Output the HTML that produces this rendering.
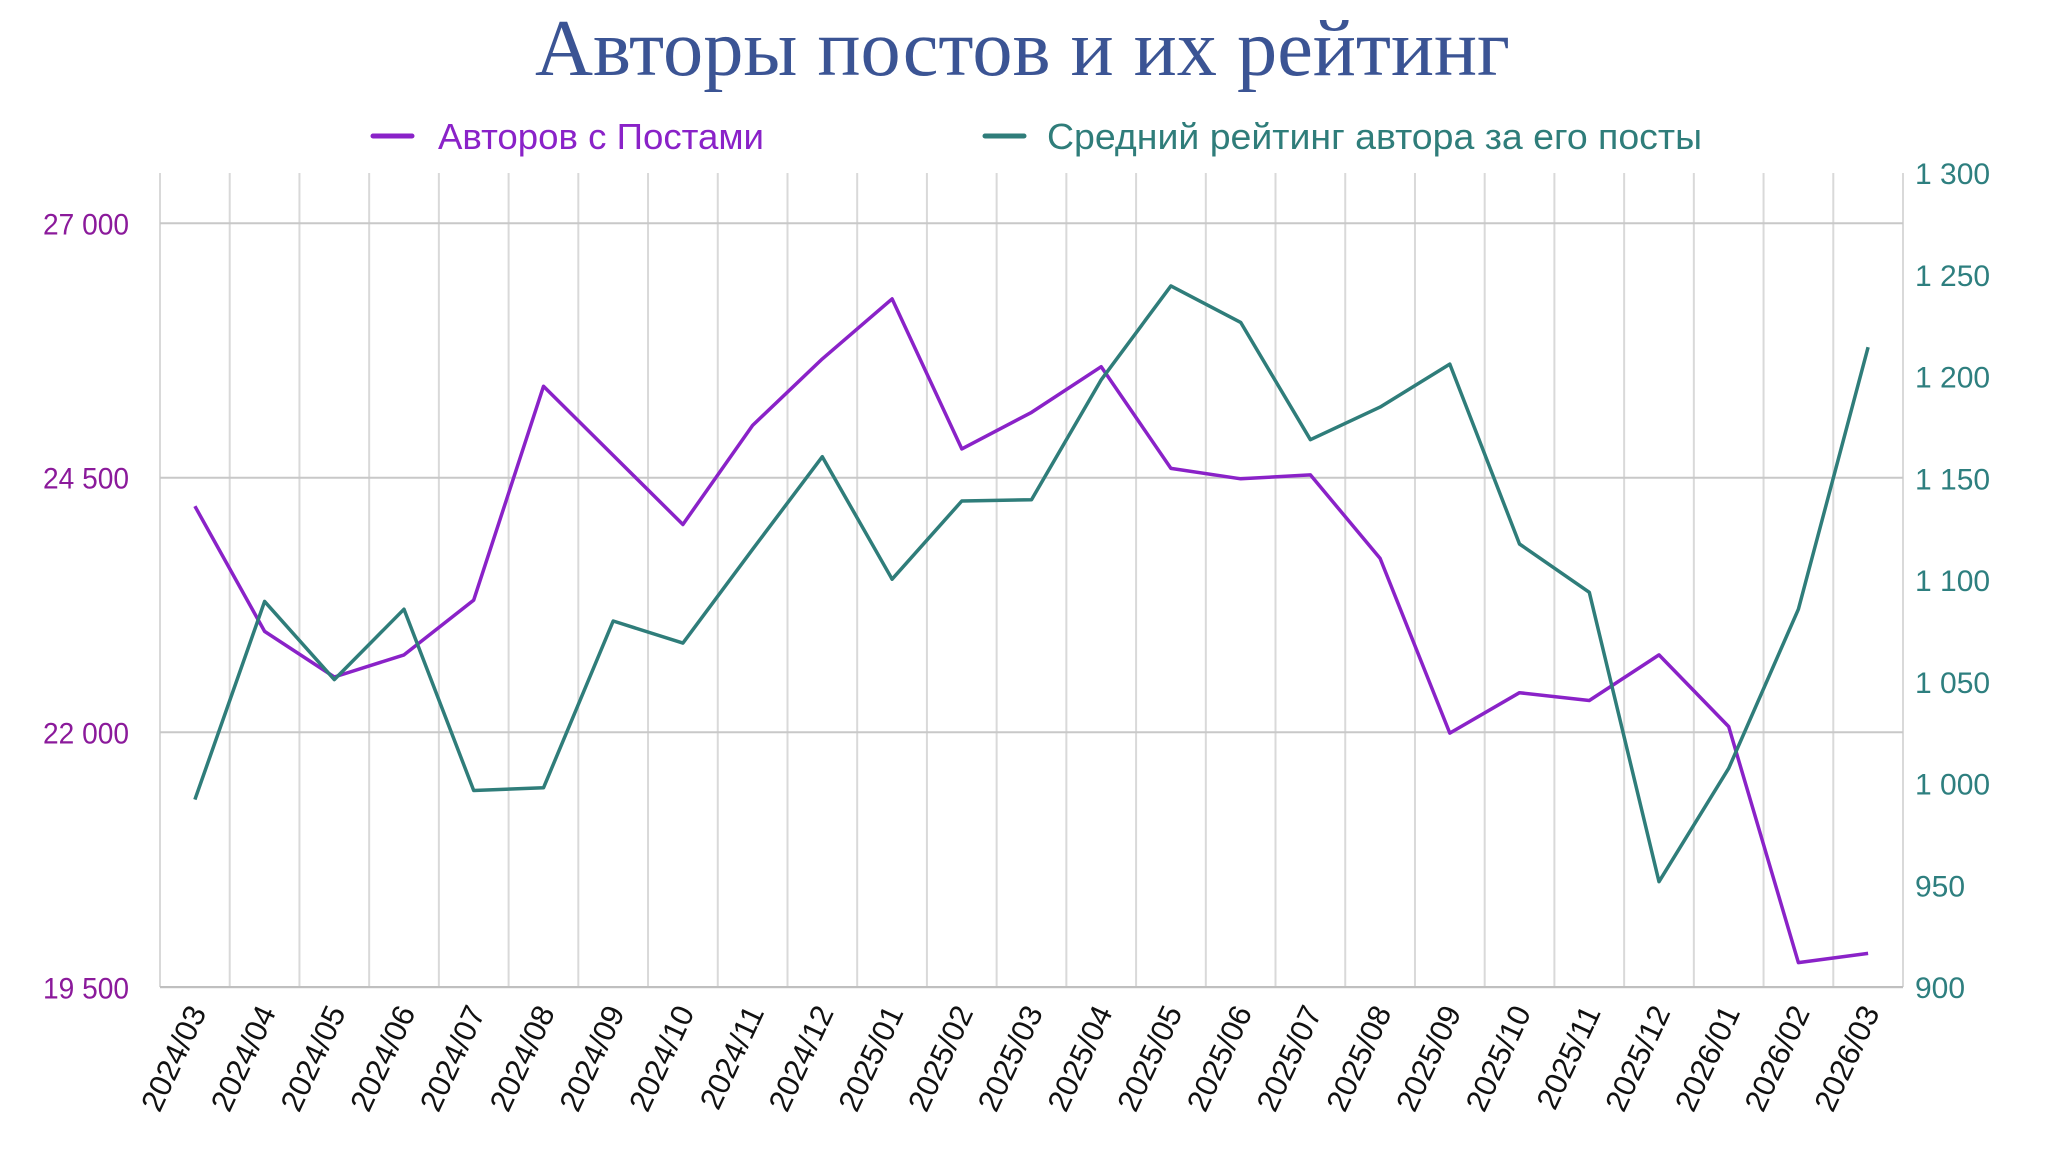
<!DOCTYPE html>
<html><head><meta charset="utf-8"><style>
html,body{margin:0;padding:0;background:#fff;}
svg{display:block;}
</style></head><body>
<svg id="c" width="2048" height="1149" xmlns="http://www.w3.org/2000/svg">
<text x="535" y="75" font-family="Liberation Serif, serif" font-size="80" fill="#3b5494" textLength="975" lengthAdjust="spacingAndGlyphs">Авторы постов и их рейтинг</text>
<line x1="373" y1="136" x2="412" y2="136" stroke="#8a22c8" stroke-width="5" stroke-linecap="round"/>
<text x="438" y="149" font-family="Liberation Sans, sans-serif" font-size="36" fill="#8a22c8" textLength="326" lengthAdjust="spacingAndGlyphs">Авторов с Постами</text>
<line x1="985" y1="136" x2="1024" y2="136" stroke="#2f7d7a" stroke-width="5" stroke-linecap="round"/>
<text x="1047" y="149" font-family="Liberation Sans, sans-serif" font-size="36" fill="#2f7d7a" textLength="655" lengthAdjust="spacingAndGlyphs">Средний рейтинг автора за его посты</text>
<g id="grid"></g>
<g id="lines"></g>
</svg>
<script>
var ns="http://www.w3.org/2000/svg",svg=document.getElementById('c');
function el(t,a,txt,p){var e=document.createElementNS(ns,t);for(var k in a)e.setAttribute(k,a[k]);if(txt!=null)e.textContent=txt;(p||svg).appendChild(e);return e;}
var L=160,R=1903,T=173,B=987,bw=(R-L)/25;
var g=document.getElementById('grid');
for(var i=0;i<=25;i++){var x=L+i*bw;el('line',{x1:x,y1:T,x2:x,y2:B,stroke:'#d9d9d9','stroke-width':2},null,g);}
var yl=[[27000,223.3],[24500,477.7],[22000,732.3],[19500,987.3]];
yl.forEach(function(v){el('line',{x1:L,y1:v[1],x2:R,y2:v[1],stroke:'#c8c8c8','stroke-width':2},null,g);
var s=Math.floor(v[0]/1000)+' '+String(v[0]%1000).padStart(3,'0');
el('text',{x:129,y:v[1]+11,'text-anchor':'end','font-family':'Liberation Sans, sans-serif','font-size':30,fill:'#8b1a9b',textLength:86,lengthAdjust:'spacingAndGlyphs'},s,g);});
el('line',{x1:L,y1:B,x2:R,y2:B,stroke:'#bfbfbf','stroke-width':2},null,g);
for(var v=900;v<=1300;v+=50){var y=B-(v-900)*(B-T)/400;
var s=v>=1000?(Math.floor(v/1000)+' '+String(v%1000).padStart(3,'0')):String(v);
el('text',{x:1915,y:y+11,'font-family':'Liberation Sans, sans-serif','font-size':30,fill:'#2e7f7f'},s,g);}
var labs=[];for(var i=0;i<25;i++){var m=2+i;var yr=2024+Math.floor(m/12);var mo=m%12+1;labs.push(yr+'/'+(mo<10?'0':'')+mo);}
labs.forEach(function(t,i){var x=L+(i+0.5)*bw+12;el('text',{x:x,y:1012,'text-anchor':'end','font-family':'Liberation Sans, sans-serif','font-size':31,fill:'#111',transform:'rotate(-65 '+x+' 1012)'},t,g);});
var p=[387,483,518,501,459,295,348,401,325,274,228,343,315,280,358,366,363,427,561,530,536,501,556,737,730];
var q=[612,460,520,466,605,603,475,492,420,349,443,383,382,290,218,246,336,311,278,416,453,675,588,466,265];
function pts(a){return a.map(function(yd,i){return (L+(i+0.5)*bw).toFixed(1)+','+(223.3+(yd-170)*1.3038).toFixed(1);}).join(' ');}
var lg=document.getElementById('lines');
el('polyline',{points:pts(p),fill:'none',stroke:'#8a22c8','stroke-width':3.5,'stroke-linejoin':'round'},null,lg);
el('polyline',{points:pts(q),fill:'none',stroke:'#2f7d7a','stroke-width':3.5,'stroke-linejoin':'round'},null,lg);
</script>
</body></html>
